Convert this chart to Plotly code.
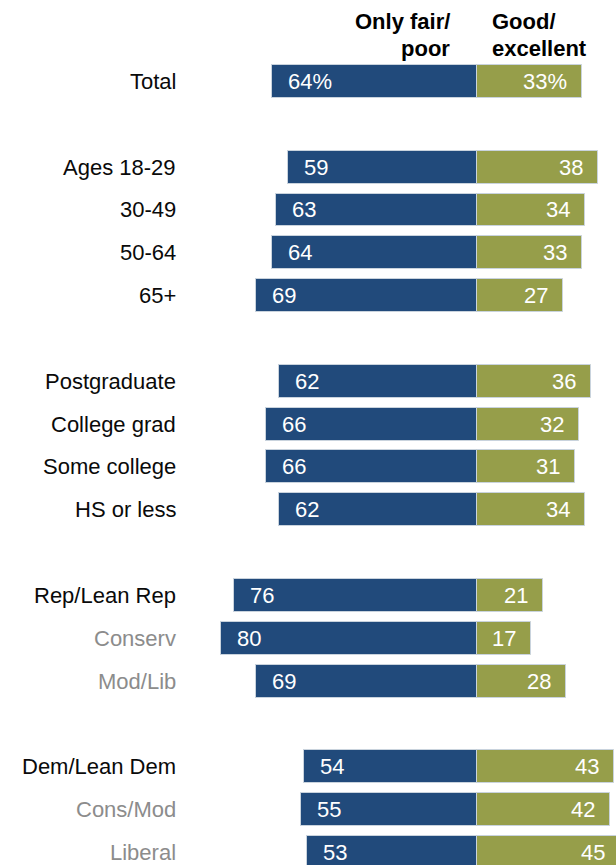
import plotly.graph_objects as go

categories = ["Total", "Ages 18-29", "30-49", "50-64", "65+",
              "Postgraduate", "College grad", "Some college", "HS or less",
              "Rep/Lean Rep", "Conserv", "Mod/Lib",
              "Dem/Lean Dem", "Cons/Mod", "Liberal"]
fair_poor = [64, 59, 63, 64, 69, 62, 66, 66, 62, 76, 80, 69, 54, 55, 53]
good_excellent = [33, 38, 34, 33, 27, 36, 32, 31, 34, 21, 17, 28, 43, 42, 45]
row_pos = [0, 2, 3, 4, 5, 7, 8, 9, 10, 12, 13, 14, 16, 17, 18]
sub_rows = ["Conserv", "Mod/Lib", "Cons/Mod", "Liberal"]

BLUE = "#214A7B"
GREEN = "#969E4A"
EDGE = "#C9D3DD"
FONT = "Liberation Sans, Arial, sans-serif"

# figure is a little wider/taller than the window; the page crops it like the reference
W, H = 640, 880
x0_px, px_per = 476.5, 3.19
y0_px, pitch = 81.5, 42.83

fig = go.Figure()
fig.add_trace(go.Bar(
    y=row_pos, x=[-v for v in fair_poor], orientation="h",
    marker=dict(color=BLUE, line=dict(color=EDGE, width=1)),
    width=0.77, hoverinfo="skip", name="Only fair/poor"))
fig.add_trace(go.Bar(
    y=row_pos, x=good_excellent, orientation="h",
    marker=dict(color=GREEN, line=dict(color=EDGE, width=1)),
    width=0.77, hoverinfo="skip", name="Good/excellent"))

ann = []
for i, (c, a, b, r) in enumerate(zip(categories, fair_poor, good_excellent, row_pos)):
    suf = "%" if i == 0 else ""
    ann.append(dict(x=178 / W, xref="paper", y=r, yref="y", text=c,
                    xanchor="right", yanchor="middle", showarrow=False,
                    font=dict(family=FONT, size=22,
                              color="#8C8C8C" if c in sub_rows else "#0A0A0A")))
    ann.append(dict(x=-a, xref="x", y=r, yref="y", text=f"{a}{suf}",
                    xanchor="left", yanchor="middle", xshift=14, showarrow=False,
                    font=dict(family=FONT, size=22, color="white")))
    ann.append(dict(x=b, xref="x", y=r, yref="y", text=f"{b}{suf}",
                    xanchor="right", yanchor="middle", xshift=-13, showarrow=False,
                    font=dict(family=FONT, size=22, color="white")))

hdr_font = dict(family=FONT, size=22, color="black")
for txt, xp, anc, yp in [("<b>Only fair/</b>", 452, "right", 21),
                         ("<b>poor</b>", 452, "right", 48),
                         ("<b>Good/</b>", 490, "left", 21),
                         ("<b>excellent</b>", 490, "left", 48)]:
    ann.append(dict(x=xp / W, xref="paper", y=1 - yp / H, yref="paper", text=txt,
                    xanchor=anc, yanchor="middle", showarrow=False, font=hdr_font))

fig.update_layout(
    width=W, height=H, margin=dict(l=0, r=0, t=0, b=0),
    paper_bgcolor="white", plot_bgcolor="white",
    barmode="relative", bargap=0, showlegend=False,
    xaxis=dict(range=[-x0_px / px_per, (W - x0_px) / px_per], visible=False,
               fixedrange=True),
    yaxis=dict(range=[(H - y0_px) / pitch, -y0_px / pitch], visible=False,
               fixedrange=True),
    annotations=ann,
)
fig.write_html("out.html", config={"displayModeBar": False},
               post_script="document.body.style.margin='0';document.body.style.overflow='hidden';"
                           "document.documentElement.style.overflow='hidden';")
